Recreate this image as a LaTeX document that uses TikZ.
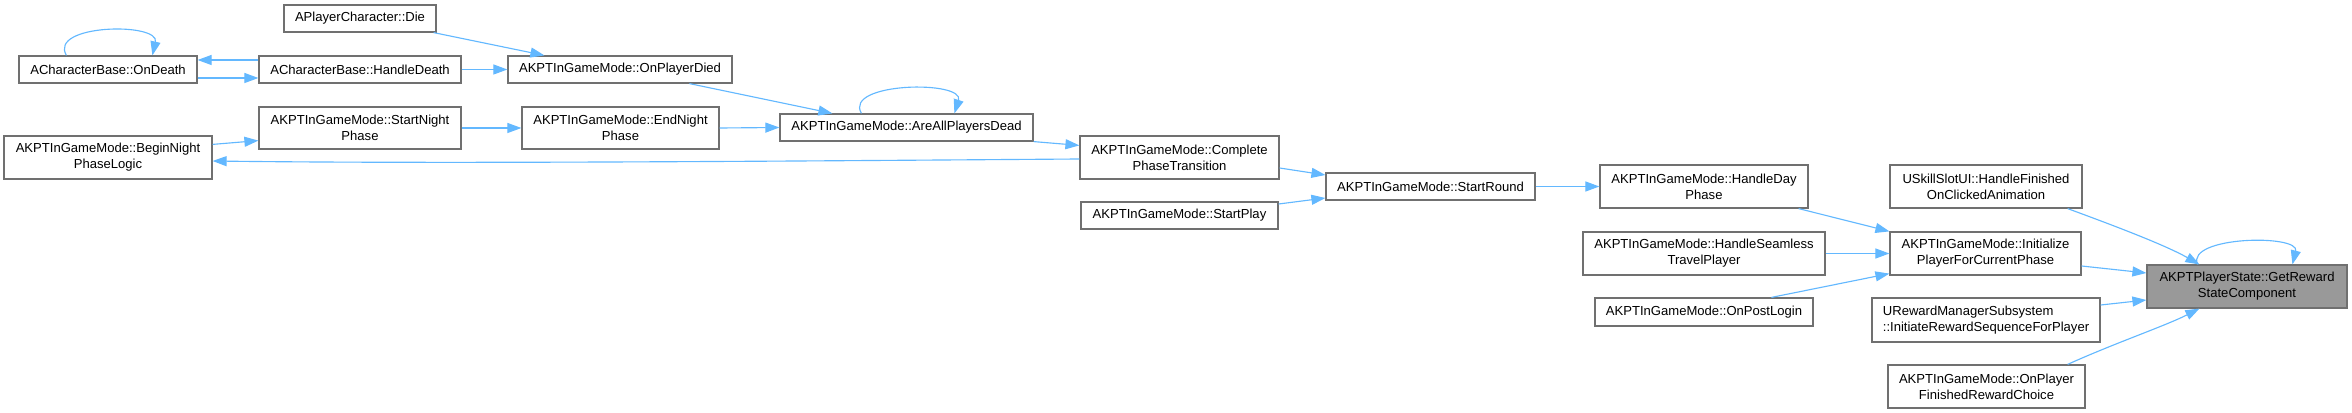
\documentclass[tikz,border=0pt]{standalone}
\usepackage{fontspec}
\setmainfont{Liberation Sans}
\usetikzlibrary{arrows.meta,calc}
\definecolor{edgeblue}{HTML}{63B8FF}
\definecolor{boxborder}{HTML}{707070}
\definecolor{focusfill}{HTML}{999999}
\begin{document}
\begin{tikzpicture}[x=0.75pt,y=-0.75pt,
  fn/.style 2 args={draw=boxborder, line width=0.9pt, fill=white, inner sep=0pt, align=center,
    minimum width={#1*0.75pt}, minimum height={#2*0.75pt}, font=\fontsize{9.8}{12}\selectfont},
  call/.style={draw=edgeblue, line width=0.85pt, -{Triangle[length=10.5pt,width=7.5pt]}}]
\useasboundingbox (0,0) rectangle (2352,413);

\node[fn={152}{27}] (die) at (360,18.5) {APlayerCharacter::Die};
\node[fn={178}{27}] (ondeath) at (108,69.5) {ACharacterBase::OnDeath};
\node[fn={202}{27}] (handledeath) at (360,69.5) {ACharacterBase::HandleDeath};
\node[fn={224}{27}] (opd) at (620,69.5) {AKPTInGameMode::OnPlayerDied};
\node[fn={202}{42}] (startnight) at (360,128) {AKPTInGameMode::StartNight\\Phase};
\node[fn={197}{42}] (endnight) at (620.5,128) {AKPTInGameMode::EndNight\\Phase};
\node[fn={253}{27}] (areall) at (906.5,127.5) {AKPTInGameMode::AreAllPlayersDead};
\node[fn={208}{43}] (beginnight) at (108,157.5) {AKPTInGameMode::BeginNight\\PhaseLogic};
\node[fn={199}{43}] (complete) at (1179.5,157.5) {AKPTInGameMode::Complete\\PhaseTransition};
\node[fn={197}{27}] (startplay) at (1179.5,215.5) {AKPTInGameMode::StartPlay};
\node[fn={209}{27}] (startround) at (1430.5,186.5) {AKPTInGameMode::StartRound};
\node[fn={208}{43}] (handleday) at (1704,186.5) {AKPTInGameMode::HandleDay\\Phase};
\node[fn={242}{43}] (seamless) at (1704,253.5) {AKPTInGameMode::HandleSeamless\\TravelPlayer};
\node[fn={218}{28}] (postlogin) at (1704,312) {AKPTInGameMode::OnPostLogin};
\node[fn={192}{43}] (skill) at (1986,186.5) {USkillSlotUI::HandleFinished\\OnClickedAnimation};
\node[fn={191}{43}] (init) at (1985.5,253.5) {AKPTInGameMode::Initialize\\PlayerForCurrentPhase};
\node[fn={228}{44}, align=left] (reward) at (1986,320) {URewardManagerSubsystem\\::InitiateRewardSequenceForPlayer};
\node[fn={197}{43}] (onplayer) at (1986.5,386.5) {AKPTInGameMode::OnPlayer\\FinishedRewardChoice};
\node[fn={200}{43}, fill=focusfill] (getreward) at (2247,286.5) {AKPTPlayerState::GetReward\\StateComponent};

\draw[call] ($(die.south east)+(-3,0)$) -- ($(opd.north west)+(37,0)$);
\draw[call] ($(ondeath.north west)+(48,0)$) .. controls (48,24) and (160,22) .. ($(ondeath.north west)+(134,0)$);
\draw[call] ($(handledeath.west)+(0,-9.5)$) -- ($(ondeath.east)+(0,-9.5)$);
\draw[call] ($(ondeath.east)+(0,8.5)$) -- ($(handledeath.west)+(0,8.5)$);
\draw[call] (handledeath.east) -- (opd.west);
\draw[call] ($(opd.south west)+(182,0)$) -- ($(areall.north west)+(53,0)$);
\draw[call] ($(beginnight.north east)+(0,9)$) -- ($(startnight.south west)+(0,-9)$);
\draw[call] (startnight.east) -- (endnight.west);
\draw[call] (endnight.east) -- (areall.west);
\draw[call] ($(areall.north west)+(82,0)$) .. controls (843,82) and (965,80) .. ($(areall.north west)+(175,0)$);
\draw[call] (areall.south east) -- ($(complete.north west)+(0,10)$);
\draw[call] ($(complete.west)+(0,1.5)$) .. controls (800,161) and (450,164) .. ($(beginnight.east)+(0,3.5)$);
\draw[call] ($(complete.east)+(0,10.5)$) -- ($(startround.west)+(0,-11.5)$);
\draw[call] ($(startplay.east)+(0,-11.5)$) -- ($(startround.west)+(0,11.5)$);
\draw[call] (startround.east) -- (handleday.west);
\draw[call] ($(handleday.south east)+(-10,0)$) -- (init.north west);
\draw[call] (seamless.east) -- (init.west);
\draw[call] ($(postlogin.north west)+(177,0)$) -- ($(init.south west)+(0,-2)$);
\draw[call] ($(skill.south east)+(-15,0)$) .. controls (2115,226) and (2165,245) .. ($(getreward.north west)+(53,0)$);
\draw[call] ($(init.east)+(0,12.5)$) -- ($(getreward.west)+(0,-13.5)$);
\draw[call] ($(reward.east)+(0,-15)$) -- ($(getreward.west)+(0,13.5)$);
\draw[call] ($(onplayer.north east)+(-18,0)$) .. controls (2115,343) and (2165,326) .. ($(getreward.south west)+(53,0)$);
\draw[call] ($(getreward.north west)+(51,0)$) .. controls (2186,236) and (2300,234) .. ($(getreward.north west)+(146,0)$);
\end{tikzpicture}
\end{document}
